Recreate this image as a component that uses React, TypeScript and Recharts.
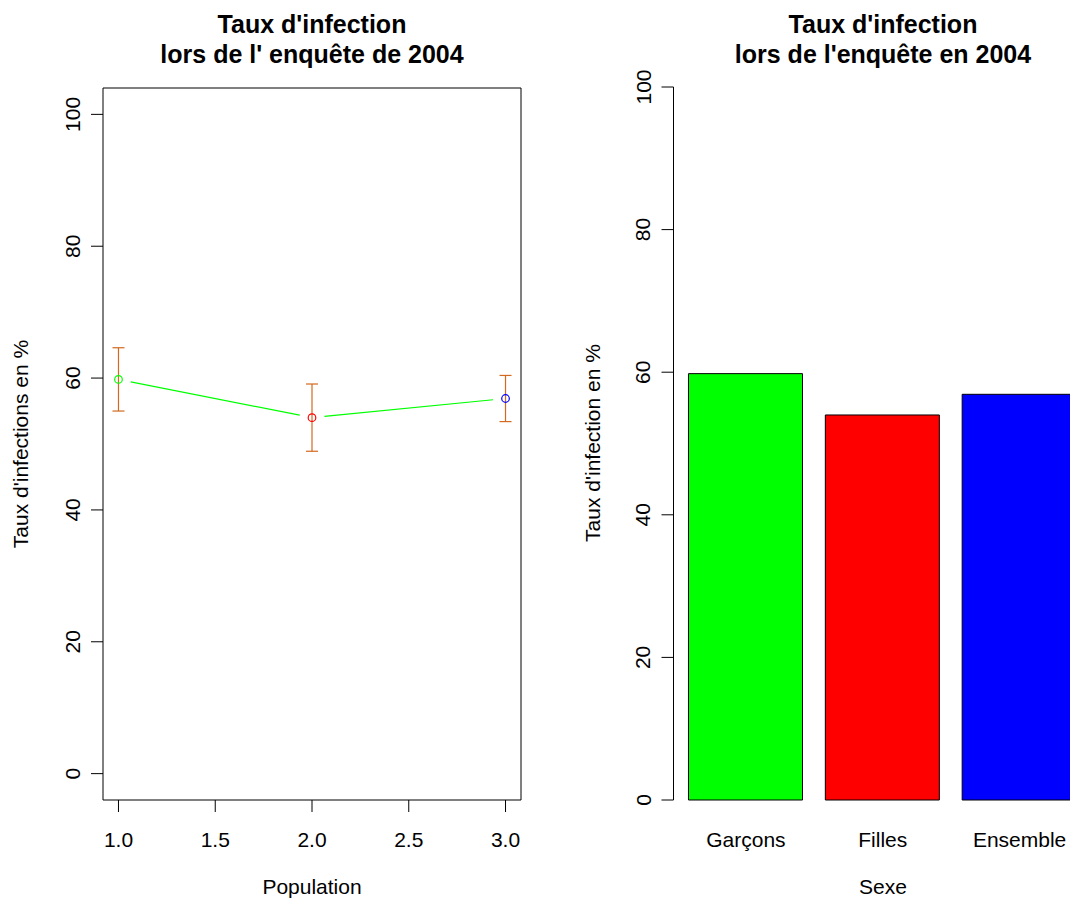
import React from 'react';
import {
  ComposedChart,
  Line,
  ErrorBar,
  BarChart,
  Bar,
  Cell,
  XAxis,
  YAxis,
  ReferenceArea,
} from 'recharts';

// Infection rates by population group (2004 survey)
const populations = [1, 2, 3];
const groupes = ['Garçons', 'Filles', 'Ensemble'];
const taux = [59.8, 54.0, 56.9];
const demiIntervalle = [4.8, 5.1, 3.5];
const couleurs = ['#00FF00', '#FF0000', '#0000FF'];
const popTicks = [1, 1.5, 2, 2.5, 3];
const tauxTicks = [0, 20, 40, 60, 80, 100];

const lineData = populations.map((p, i) => ({
  population: p,
  taux: taux[i],
  ic: demiIntervalle[i],
  couleur: couleurs[i],
}));
const barData = groupes.map((g, i) => ({ sexe: g, taux: taux[i] }));

const FONT = '"Liberation Sans", Arial, Helvetica, sans-serif';
const TXT = 21;

// d3-style curve: straight segments that stop `gap` px short of each point (like type="b")
const gappedCurve = (gap: number) => (context: any) => {
  let prev: [number, number] | null = null;
  return {
    areaStart() {},
    areaEnd() {},
    lineStart() {
      prev = null;
    },
    lineEnd() {},
    point(x: number, y: number) {
      x = +x;
      y = +y;
      if (prev) {
        const dx = x - prev[0];
        const dy = y - prev[1];
        const len = Math.hypot(dx, dy);
        if (len > 2 * gap) {
          const ux = dx / len;
          const uy = dy / len;
          context.moveTo(prev[0] + ux * gap, prev[1] + uy * gap);
          context.lineTo(x - ux * gap, y - uy * gap);
        }
      }
      prev = [x, y];
    },
  };
};

const YTick = ({ x, y, payload }: any) => (
  <text
    x={x}
    y={y}
    transform={`rotate(-90 ${x} ${y})`}
    textAnchor="middle"
    fontSize={TXT}
    fontFamily={FONT}
    fill="#000"
  >
    {payload.value}
  </text>
);

const XTick = ({ x, y, payload, decimals }: any) => (
  <text x={x} y={y} textAnchor="middle" fontSize={TXT} fontFamily={FONT} fill="#000">
    {decimals != null ? Number(payload.value).toFixed(decimals) : payload.value}
  </text>
);

const OpenCircle = ({ cx, cy, payload }: any) => (
  <circle cx={cx} cy={cy} r={3.8} fill="none" stroke={payload.couleur} strokeWidth={1.2} />
);

const Titres = () => (
  <svg
    width={1070}
    height={900}
    style={{ position: 'absolute', left: 0, top: 0, pointerEvents: 'none' }}
    fontFamily={FONT}
  >
    <g fontSize={25} fontWeight="bold" textAnchor="middle">
      <text x={312} y={33}>Taux d'infection</text>
      <text x={312} y={63}>lors de l' enquête de 2004</text>
      <text x={883} y={33}>Taux d'infection</text>
      <text x={883} y={63}>lors de l'enquête en 2004</text>
    </g>
    <g fontSize={TXT} textAnchor="middle">
      <text x={312} y={894}>Population</text>
      <text x={883} y={894}>Sexe</text>
      <text x={28} y={444} transform="rotate(-90 28 444)">Taux d'infections en %</text>
      <text x={600} y={443} transform="rotate(-90 600 443)">Taux d'infection en %</text>
    </g>
  </svg>
);

export default function App() {
  return (
    <div
      style={{
        position: 'absolute',
        left: 0,
        top: 0,
        width: 1070,
        height: 900,
        overflow: 'hidden',
        background: '#fff',
      }}
    >
      <div style={{ position: 'absolute', left: 0, top: 0 }}>
        <ComposedChart
          width={535}
          height={900}
          data={lineData}
          margin={{ top: 88, right: 14, bottom: 70, left: 43 }}
        >
          <XAxis
            dataKey="population"
            type="number"
            domain={[0.92, 3.08]}
            ticks={popTicks}
            axisLine={false}
            tickLine={{ stroke: '#000' }}
            tickSize={12}
            tickMargin={35}
            height={30}
            tick={<XTick decimals={1} />}
          />
          <YAxis
            type="number"
            domain={[-4, 104]}
            ticks={tauxTicks}
            axisLine={false}
            tickLine={{ stroke: '#000' }}
            tickSize={12}
            tickMargin={11}
            width={60}
            tick={<YTick />}
          />
          <ReferenceArea
            x1={0.92}
            x2={3.08}
            y1={-4}
            y2={104}
            fill="none"
            stroke="#000"
            strokeWidth={1}
            ifOverflow="visible"
          />
          <Line
            dataKey="taux"
            type={gappedCurve(12.5) as any}
            stroke="#00FF00"
            strokeWidth={1.2}
            dot={<OpenCircle />}
            activeDot={false}
            isAnimationActive={false}
          >
            <ErrorBar
              dataKey="ic"
              direction="y"
              width={6}
              stroke="#D2691E"
              strokeWidth={1.2}
              isAnimationActive={false}
            />
          </Line>
        </ComposedChart>
      </div>
      <div style={{ position: 'absolute', left: 535, top: 0 }}>
        <BarChart
          width={570}
          height={900}
          data={barData}
          margin={{ top: 87, right: 13, bottom: 70, left: 78.5 }}
          barSize={114}
        >
          <XAxis
            dataKey="sexe"
            axisLine={false}
            tickLine={false}
            tickSize={0}
            tickMargin={47}
            height={30}
            padding={{ left: 4, right: 4 }}
            tick={<XTick />}
            interval={0}
          />
          <YAxis
            type="number"
            domain={[0, 100]}
            ticks={tauxTicks}
            axisLine={{ stroke: '#000' }}
            tickLine={{ stroke: '#000' }}
            tickSize={12}
            tickMargin={11}
            width={60}
            tick={<YTick />}
          />
          <Bar dataKey="taux" stroke="#000" strokeWidth={1} isAnimationActive={false}>
            {barData.map((d, i) => (
              <Cell key={d.sexe} fill={couleurs[i]} />
            ))}
          </Bar>
        </BarChart>
      </div>
      <Titres />
    </div>
  );
}
